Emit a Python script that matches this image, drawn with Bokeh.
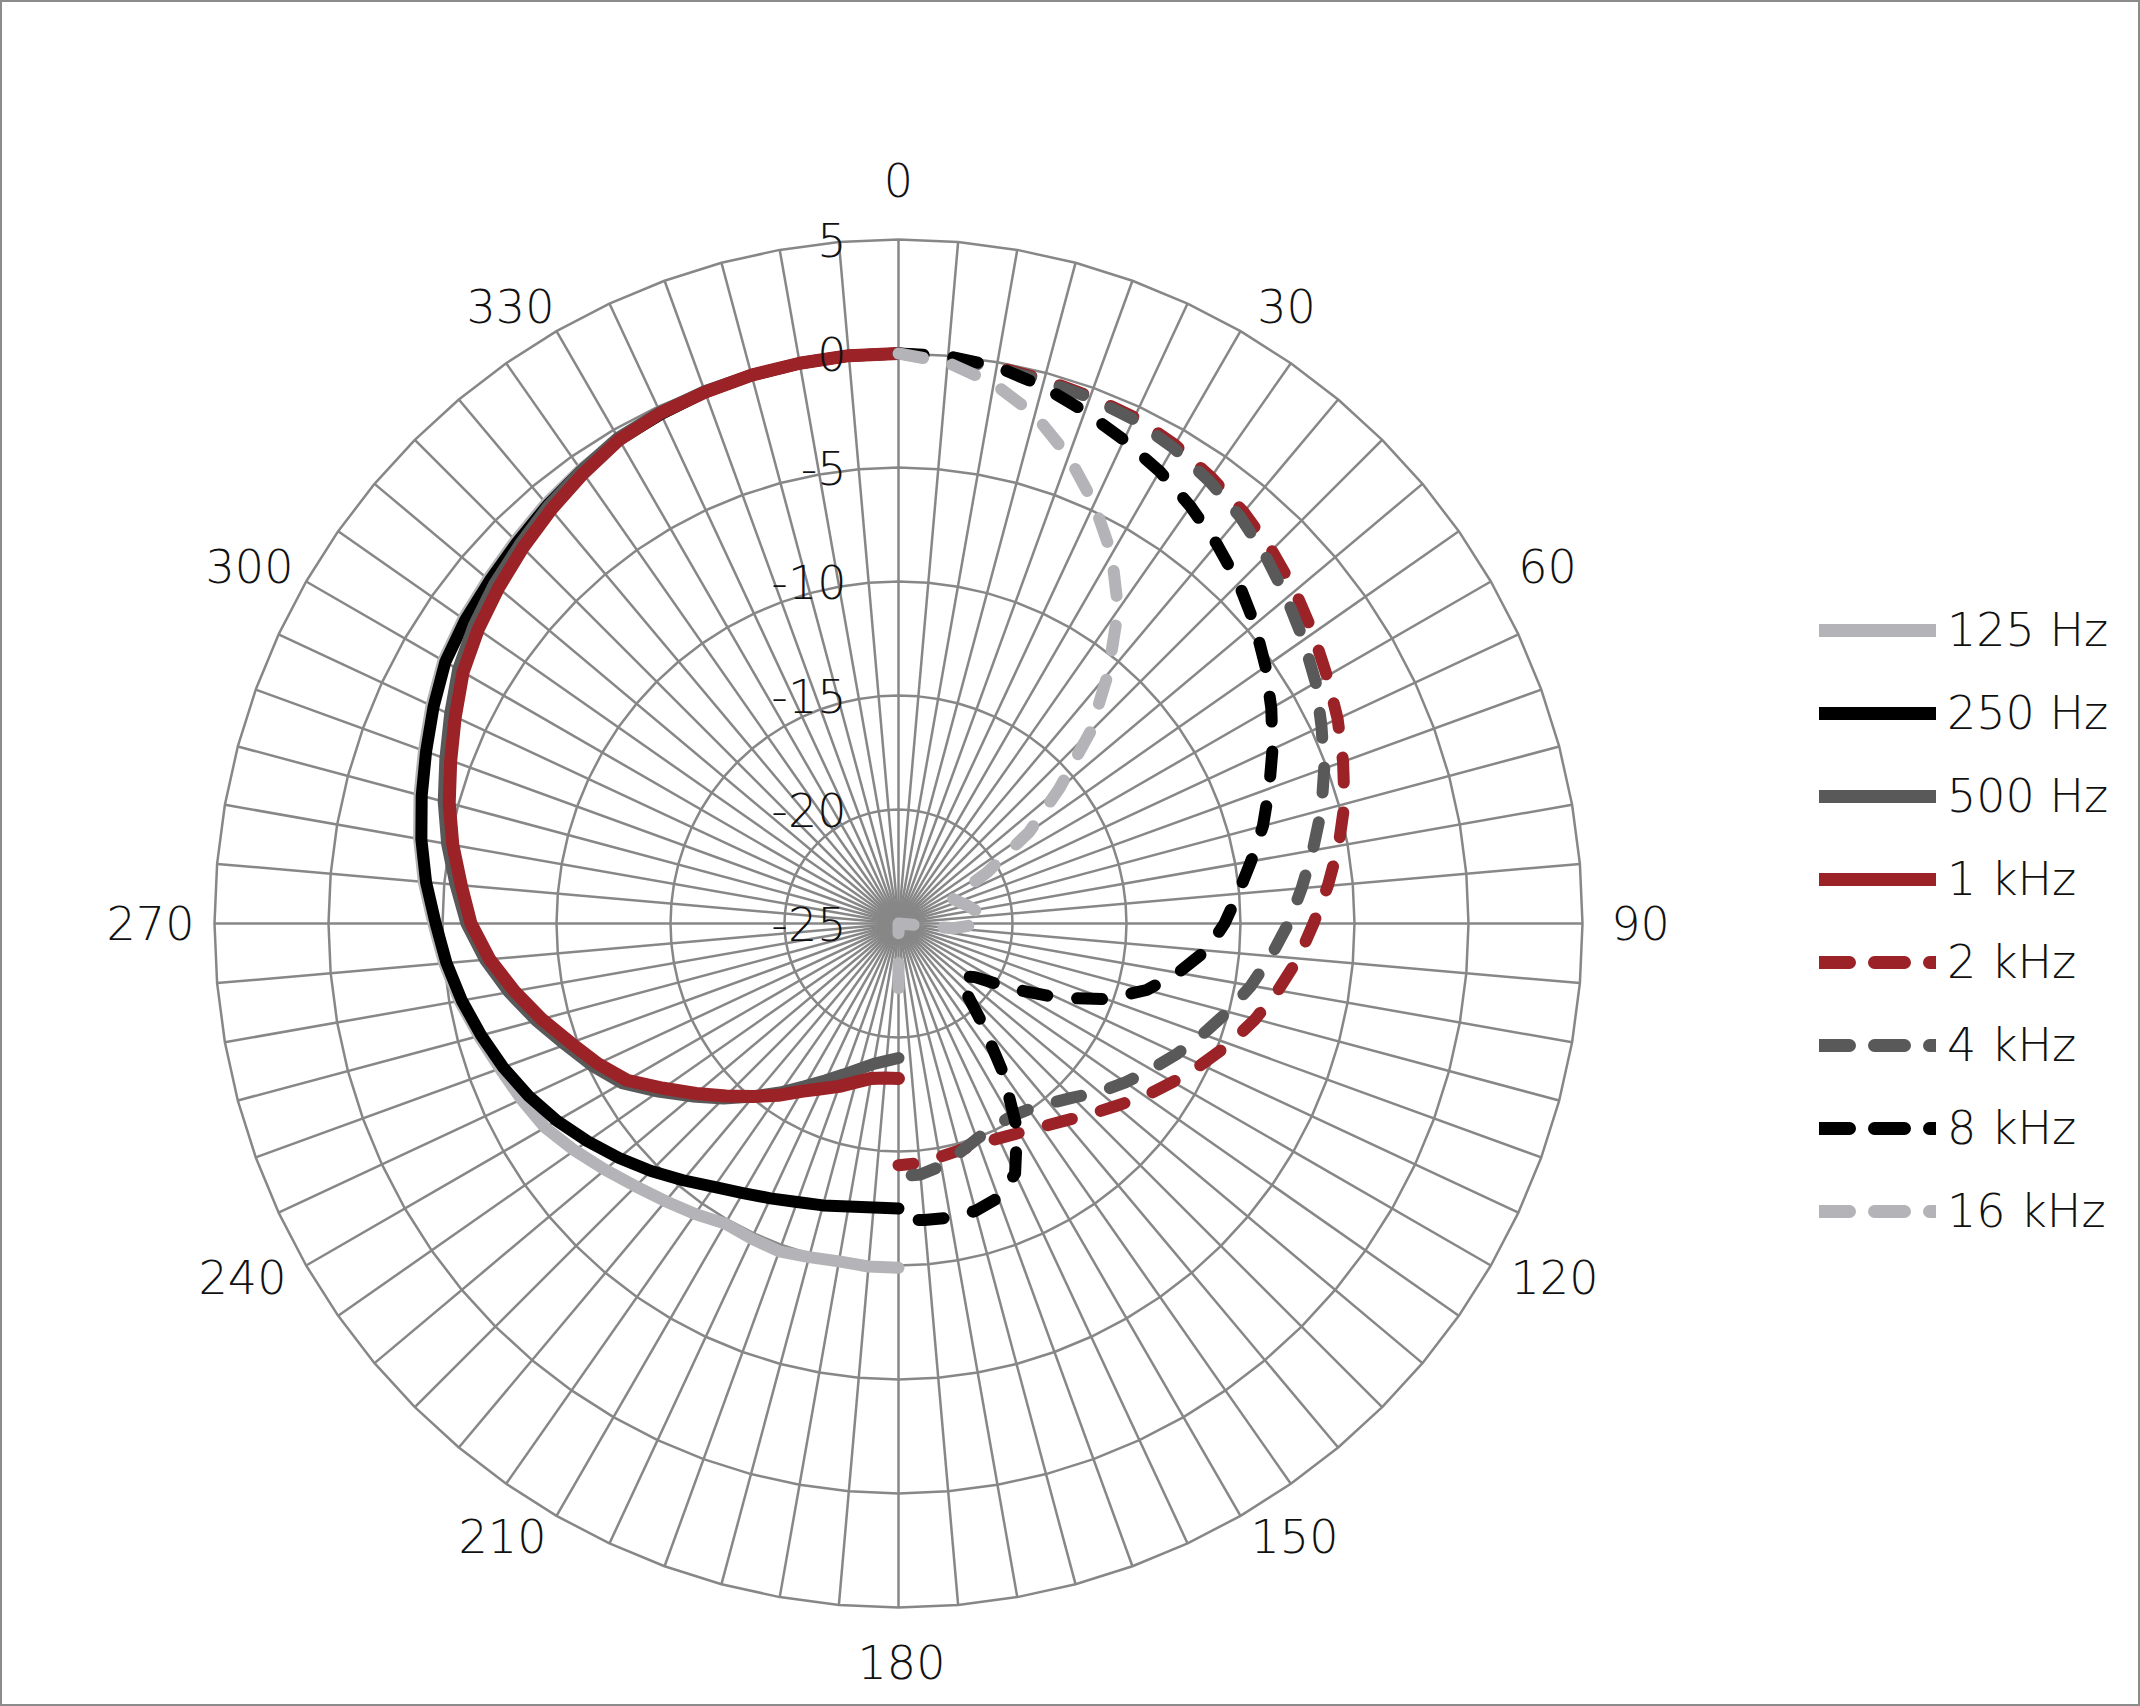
import numpy as np
from bokeh.plotting import figure
from bokeh.models import Range1d, Legend, LegendItem
from bokeh.core.properties import value
from bokeh.embed import file_html
from bokeh.resources import INLINE

# ---------------- data ----------------
# solid series: measured from 180 to 360 degrees (5 degree steps)
angles_rear = list(range(180, 365, 5))
# dashed series: measured from 0 to 180 degrees (5 degree steps)
angles_front = list(range(0, 185, 5))

hz125 = [-9.9, -9.9, -9.95, -9.85, -9.7, -9.75, -9.8, -9.45, -9.1, -8.7, -8.2, -7.65,
         -7.1, -6.75, -6.4, -5.95, -5.45, -5.0, -4.6, -4.1, -3.65, -3.25, -2.85, -2.4,
         -1.95, -1.7, -1.5, -1.25, -0.95, -0.7, -0.45, -0.3, -0.2, -0.1, -0.05, 0.0, 0.0]
hz250 = [-12.5, -12.5, -12.4, -12.2, -12.0, -11.7, -11.35, -10.9, -10.3, -9.65, -9.0, -8.35,
         -7.7, -7.1, -6.55, -6.05, -5.55, -5.1, -4.7, -4.2, -3.75, -3.35, -2.95, -2.5,
         -2.05, -1.8, -1.6, -1.35, -1.05, -0.75, -0.5, -0.35, -0.2, -0.1, -0.05, 0.0, 0.0]
hz500 = [-19.1, -18.95, -18.75, -18.4, -17.95, -17.4, -16.75, -15.95, -15.1, -14.15, -13.2, -12.15,
         -11.0, -10.2, -9.45, -8.55, -7.65, -6.8, -6.05, -5.5, -4.9, -4.35, -3.85, -3.3,
         -2.7, -2.25, -1.85, -1.5, -1.1, -0.75, -0.4, -0.25, -0.15, -0.1, -0.05, 0.0, 0.0]
khz1 = [-18.2, -18.2, -18.1, -17.8, -17.4, -17.0, -16.5, -15.8, -15.1, -14.3, -13.4, -12.4,
        -11.25, -10.45, -9.7, -8.8, -7.9, -7.0, -6.25, -5.75, -5.15, -4.6, -4.1, -3.55,
        -2.95, -2.5, -2.1, -1.7, -1.3, -0.9, -0.5, -0.3, -0.2, -0.1, -0.05, 0.0, 0.0]
khz2 = [0.0, -0.1, -0.2, -0.3, -0.4, -0.5, -0.75, -1.1, -1.45, -1.85, -2.3, -2.8,
        -3.3, -3.75, -4.25, -4.75, -5.4, -6.1, -6.8, -7.4, -8.1, -8.8, -9.55, -10.35,
        -11.1, -11.8, -12.55, -13.15, -13.7, -14.1, -14.4, -14.6, -14.7, -14.7, -14.6, -14.45, -14.4]
khz4 = [0.0, -0.1, -0.25, -0.37, -0.45, -0.6, -0.9, -1.28, -1.7, -2.22, -2.78, -3.32,
        -3.87, -4.53, -5.13, -5.8, -6.55, -7.25, -7.9, -8.6, -9.3, -10.05, -10.8, -11.5,
        -12.2, -12.85, -13.5, -14.2, -14.7, -15.05, -15.2, -15.15, -14.95, -14.6, -14.2, -13.95, -13.9]
khz8 = [0.0, -0.02, -0.2, -0.6, -1.1, -1.6, -2.1, -2.67, -3.28, -3.9, -4.6, -5.35,
        -6.12, -6.9, -7.7, -8.45, -9.3, -10.05, -10.7, -11.45, -12.55, -13.73, -15.3, -17.3,
        -19.3, -20.9, -21.4, -20.9, -19.3, -17.0, -14.6, -12.9, -12.2, -11.95, -11.9, -11.95, -12.0]
khz16 = [0.0, -0.3, -0.95, -1.9, -3.2, -4.7, -6.3, -8.2, -10.7, -13.1, -15.8, -18.0,
         -20.5, -22.4, -22.2, -21.9, -21.6, -21.4, -21.3, -22.6, -25.0, -25.0, -25.0, -25.0,
         -25.0, -25.0, -25.0, -25.0, -25.0, -25.0, -25.0, -25.0, -25.0, -25.0, -25.0, -25.0, -21.5]

series_names = ["125 Hz", "250 Hz", "500 Hz", "1 kHz", "2 kHz", "4 kHz", "8 kHz", "16 kHz"]
angle_ticks = [0, 30, 60, 90, 120, 150, 180, 210, 240, 270, 300, 330]
ring_ticks = [5, 0, -5, -10, -15, -20, -25]
r_min, r_max = -25, 5

# ---------------- layout / style ----------------
W, H = 2140, 1706
CX, CY = 898, 923            # centre of the polar area (pixels from top-left)
R = 684                      # outer ring radius in pixels
K = R / (r_max - r_min)      # pixels per dB
GRID = "#878787"
LIGHT, BLACK, DARK, RED = "#b4b4b8", "#000000", "#595959", "#9b2226"
FONT_NAME = "DejaVu Sans ExtraLight, DejaVu Sans Light, DejaVu Sans, sans-serif"
FONT = value(FONT_NAME)
FSIZE = "46px"

p = figure(width=W, height=H, output_backend="svg", toolbar_location=None,
           x_range=Range1d(-CX, W - CX), y_range=Range1d(-(H - CY), CY),
           min_border=0, x_axis_location=None, y_axis_location=None)
p.grid.visible = False
p.outline_line_color = "#8c8c8c"
p.outline_line_width = 3
p.background_fill_color = "white"


def polar(angles_deg, vals):
    a = np.radians(np.asarray(angles_deg, dtype=float))
    r = (np.clip(np.asarray(vals, dtype=float), r_min, r_max) - r_min) * K
    return r * np.sin(a), r * np.cos(a)


# grid: spokes every 5 degrees and polygonal rings
spoke_angles = np.arange(0, 360, 5)
sa = np.radians(spoke_angles)
p.multi_line(xs=[[0, R * np.sin(t)] for t in sa], ys=[[0, R * np.cos(t)] for t in sa],
             line_color=GRID, line_width=2.5)
ring_xs, ring_ys = [], []
for rv in ring_ticks[:-1]:
    rr = (rv - r_min) * K
    ang = np.radians(np.append(spoke_angles, 360))
    ring_xs.append(list(rr * np.sin(ang)))
    ring_ys.append(list(rr * np.cos(ang)))
p.multi_line(xs=ring_xs, ys=ring_ys, line_color=GRID, line_width=2.5)

# series
styles = [
    (hz125, angles_rear, LIGHT, "solid", 12),
    (hz250, angles_rear, BLACK, "solid", 12),
    (hz500, angles_rear, DARK, "solid", 12),
    (khz1, angles_rear, RED, "solid", 13),
    (khz2, angles_front, RED, "25 30", 12),
    (khz4, angles_front, DARK, "25 30", 12),
    (khz8, angles_front, BLACK, "25 30", 12),
    (khz16, angles_front, LIGHT, "25 30", 12),
]
items = []
for name, (vals, angs, col, dash, lw) in zip(series_names, styles):
    x, y = polar(angs, vals)
    p.line(x=x, y=y, line_color=col, line_width=lw, line_dash=dash,
           line_cap="round", line_join="round")
    # legend proxy (a single point draws nothing on the chart)
    proxy = p.line(x=[0.0], y=[0.0], line_color=col, line_width=13,
                   line_dash=("solid" if dash == "solid" else "30 25"), line_cap="round")
    items.append(LegendItem(label=name, renderers=[proxy]))

# angle labels (centre offsets from the polar centre, pixels)
label_off = [(0, 744), (388, 618), (649, 358), (742, 1), (656, -353), (396, -612),
             (3, -738), (-396, -612), (-656, -353), (-748, 1), (-649, 358), (-388, 618)]
p.text(x=[o[0] for o in label_off], y=[o[1] for o in label_off],
       text=[str(a) for a in angle_ticks], text_align="center", text_baseline="middle",
       text_font=FONT, text_font_size=FSIZE, text_color="#111111")

# ring (value) labels along the 0-degree spoke
p.text(x=[-52] * len(ring_ticks), y=[(rv - r_min) * K for rv in ring_ticks],
       text=[str(rv) for rv in ring_ticks], text_align="right", text_baseline="middle",
       text_font=FONT, text_font_size=FSIZE, text_color="#111111")

legend = Legend(items=items, location=(1819, 468), orientation="vertical",
                glyph_width=117, glyph_height=50, label_height=50, spacing=29,
                label_standoff=11, padding=0, margin=0,
                border_line_alpha=0, background_fill_alpha=0,
                label_text_font=FONT_NAME, label_text_font_size=FSIZE, label_text_color="#111111")
p.add_layout(legend)

open("out.html", "w").write(file_html(p, INLINE))
